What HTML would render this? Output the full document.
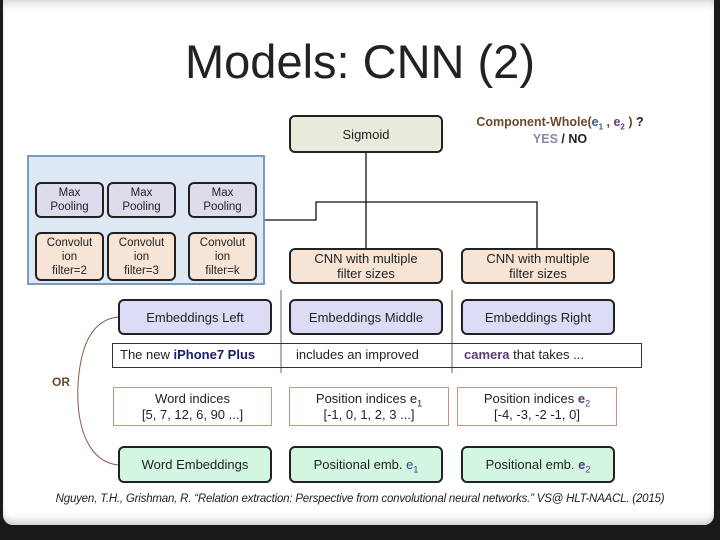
<!DOCTYPE html>
<html><head><meta charset="utf-8"><style>
body{margin:0;width:720px;height:540px;background:#1a1a1a;position:relative;overflow:hidden;font-family:"Liberation Sans",sans-serif;}
.slide{position:absolute;left:3px;top:0;width:711px;height:525px;background:#fff;border-radius:0 0 10px 10px;box-shadow:inset 0 8px 10px -6px #ccc, inset 0 -8px 10px -6px #bbb;}
.b{position:absolute;box-sizing:border-box;border:2px solid #222;border-radius:6px;display:flex;align-items:center;justify-content:center;text-align:center;font-size:13px;color:#222;line-height:15px;}
.s{font-size:11.5px;line-height:14px;}
.pool{background:#dcdcec;}
.conv{background:#f6e4d6;}
.emb{background:#dcdcf6;}
.grn{background:#d2f6e2;}
.idx{position:absolute;box-sizing:border-box;border:1px solid #d09080;display:flex;align-items:center;justify-content:center;text-align:center;font-size:13px;line-height:16px;color:#222;}
.abs{position:absolute;}
sub{line-height:0;}
</style></head><body>
<div class="slide"></div>
<div class="abs" style="left:0;width:720px;top:34px;text-align:center;font-size:47px;color:#222;">Models: CNN (2)</div>

<div class="b" style="left:289px;top:115px;width:154px;height:38px;background:#e8ecdc;">Sigmoid</div>
<div class="abs" style="left:445px;width:230px;top:114px;text-align:center;font-size:12.5px;font-weight:bold;line-height:17px;color:#6a4a2a;">Component-Whole(<span style="color:#3a5a7a">e<sub style="font-size:8px">1</sub></span> , <span style="color:#6a3a7a">e<sub style="font-size:8px">2</sub></span> ) <span style="color:#222">?</span><br><span style="color:#8a88a8">YES</span> <span style="color:#222">/ NO</span></div>

<div class="abs" style="left:27px;top:155px;width:238px;height:130px;box-sizing:border-box;background:#dde8f2;border:2px solid #7a9ac0;"></div>
<div class="b s pool" style="left:35px;top:182px;width:69px;height:36px;">Max<br>Pooling</div>
<div class="b s pool" style="left:107px;top:182px;width:69px;height:36px;">Max<br>Pooling</div>
<div class="b s pool" style="left:188px;top:182px;width:69px;height:36px;">Max<br>Pooling</div>
<div class="b s conv" style="left:35px;top:232px;width:69px;height:49px;">Convolut<br>ion<br>filter=2</div>
<div class="b s conv" style="left:107px;top:232px;width:69px;height:49px;">Convolut<br>ion<br>filter=3</div>
<div class="b s conv" style="left:188px;top:232px;width:69px;height:49px;">Convolut<br>ion<br>filter=k</div>

<svg class="abs" style="left:0;top:0" width="720" height="540">
<path d="M265 220 H316 V202 H537 V248 M366 153 V248" fill="none" stroke="#111" stroke-width="1.3"/>
<path d="M281 290 V373 M452 290 V373" stroke="#8a5a4a" stroke-width="1"/>
<path d="M118 317 C90 320 80 350 78 385 C76 430 90 462 118 465" fill="none" stroke="#8a5a4a" stroke-width="1"/>
</svg>

<div class="b conv" style="left:289px;top:248px;width:154px;height:36px;">CNN with multiple<br>filter sizes</div>
<div class="b conv" style="left:461px;top:248px;width:154px;height:36px;">CNN with multiple<br>filter sizes</div>

<div class="b emb" style="left:118px;top:299px;width:154px;height:36px;">Embeddings Left</div>
<div class="b emb" style="left:289px;top:299px;width:154px;height:36px;">Embeddings Middle</div>
<div class="b emb" style="left:461px;top:299px;width:154px;height:36px;">Embeddings Right</div>

<div class="abs" style="left:112px;top:343px;width:530px;height:25px;box-sizing:border-box;border:1px solid #333;"></div>
<div class="abs" style="left:120px;top:347px;font-size:13px;color:#222;">The new <b style="color:#1a1a6a">iPhone7 Plus</b></div>
<div class="abs" style="left:296px;top:347px;font-size:13px;color:#222;">includes an improved</div>
<div class="abs" style="left:464px;top:347px;font-size:13px;color:#222;"><b style="color:#5a3a7a">camera</b> that takes ...</div>

<div class="abs" style="left:52px;top:375px;font-size:12px;font-weight:bold;color:#6a4a2a;">OR</div>

<div class="idx" style="left:113px;top:387px;width:159px;height:39px;"><div>Word indices<br>[5, 7, 12, 6, 90 ...]</div></div>
<div class="idx" style="left:289px;top:387px;width:160px;height:39px;"><div>Position indices e<sub style="font-size:9px">1</sub><br>[-1, 0, 1, 2, 3 ...]</div></div>
<div class="idx" style="left:457px;top:387px;width:160px;height:39px;"><div>Position indices <b style="color:#5a3a7a">e</b><sub style="font-size:9px;color:#5a3a7a">2</sub><br>[-4, -3, -2 -1, 0]</div></div>

<div class="b grn" style="left:118px;top:446px;width:154px;height:37px;">Word Embeddings</div>
<div class="b grn" style="left:289px;top:446px;width:154px;height:37px;"><div>Positional emb. <span style="color:#2a4a8a">e<sub style="font-size:9px">1</sub></span></div></div>
<div class="b grn" style="left:461px;top:446px;width:154px;height:37px;"><div>Positional emb. <b style="color:#5a3a7a">e</b><sub style="font-size:9px;color:#5a3a7a">2</sub></div></div>

<div class="abs" style="left:0;width:720px;top:493px;text-align:center;font-size:11.5px;font-style:italic;color:#222;letter-spacing:-0.2px;">Nguyen, T.H., Grishman, R. “Relation extraction: Perspective from convolutional neural networks.” VS@ HLT-NAACL. (2015)</div>
</body></html>
